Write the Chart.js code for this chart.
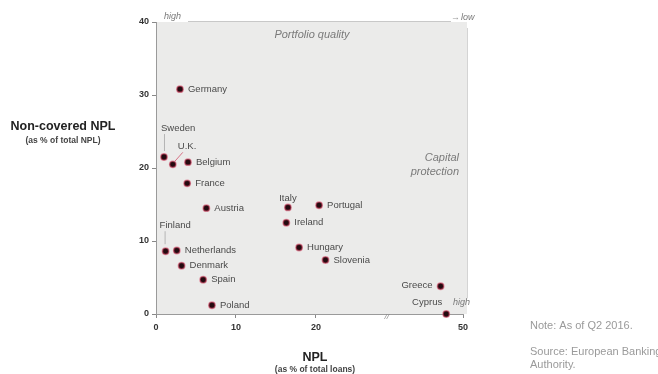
<!DOCTYPE html>
<html>
<head>
<meta charset="utf-8">
<style>
  html, body { margin: 0; padding: 0; background: #ffffff; }
  #wrap { width: 658px; height: 374px; position: relative; overflow: hidden; }
</style>
<script src="https://cdn.jsdelivr.net/npm/chart.js@4/dist/chart.umd.min.js"></script>
</head>
<body>
<div id="wrap"><canvas id="c" width="658" height="374"></canvas></div>
<script>
// Bank NPL ratio vs. share of NPL not covered by provisions/collateral (Q2 2016)
const countries = ['Germany', 'Sweden', 'U.K.', 'Belgium', 'France', 'Austria', 'Italy', 'Portugal',
  'Ireland', 'Finland', 'Netherlands', 'Hungary', 'Slovenia', 'Denmark', 'Spain', 'Poland', 'Greece', 'Cyprus'];
const nplRatio = [3.0, 1.0, 2.1, 4.0, 3.9, 6.3, 16.5, 20.4,
  16.3, 1.2, 2.6, 17.9, 21.2, 3.2, 5.9, 7.0, 47.2, 47.9];
const nonCoveredShare = [30.8, 21.5, 20.5, 20.8, 17.9, 14.5, 14.6, 14.9,
  12.5, 8.6, 8.7, 9.1, 7.4, 6.6, 4.7, 1.2, 3.8, 0.0];
const xTickValues = [0, 10, 20, 50];
const yTickValues = [0, 10, 20, 30, 40];

// x axis is broken: everything above BREAK_AT is shifted left by BREAK_SHIFT
const BREAK_AT = 28.6;
const BREAK_SHIFT = 11.6;
function toDisplay(v) {
  return v <= BREAK_AT ? v : Math.max(BREAK_AT, v - BREAK_SHIFT);
}
function fromDisplay(d) {
  return d <= BREAK_AT ? d : d + BREAK_SHIFT;
}

class BrokenLinearScale extends Chart.LinearScale {
  getPixelForValue(value) {
    const lo = toDisplay(this.min), hi = toDisplay(this.max);
    return this.getPixelForDecimal((toDisplay(value) - lo) / (hi - lo));
  }
  getValueForPixel(pixel) {
    const lo = toDisplay(this.min), hi = toDisplay(this.max);
    return fromDisplay(lo + this.getDecimalForPixel(pixel) * (hi - lo));
  }
}
BrokenLinearScale.id = 'brokenLinear';
BrokenLinearScale.defaults = Chart.LinearScale.defaults;
Chart.register(BrokenLinearScale);

// label placement per country: [dx, dy, textAlign]
const labelPlacement = {
  'Sweden': [-3, -29, 'left'],
  'U.K.': [5, -18, 'left'],
  'Italy': [0, -9, 'center'],
  'Finland': [-6, -26, 'left'],
  'Greece': [-8, -1, 'right'],
  'Cyprus': [-4, -12, 'right']
};

const FONT = '"Liberation Sans", Arial, sans-serif';

const decorPlugin = {
  id: 'decor',
  beforeDraw(chart) {
    const { ctx, chartArea: a } = chart;
    ctx.save();
    ctx.fillStyle = '#ebebea';
    ctx.fillRect(a.left, a.top, a.right - a.left + 4, a.bottom - a.top);
    // right edge line (capital protection direction)
    ctx.strokeStyle = '#d4d4d4';
    ctx.lineWidth = 1;
    ctx.beginPath();
    ctx.moveTo(a.right + 4.5, a.top + 6);
    ctx.lineTo(a.right + 4.5, a.bottom - 16);
    ctx.stroke();
    // top line (portfolio quality direction)
    ctx.strokeStyle = '#c8c8c8';
    ctx.beginPath();
    ctx.moveTo(a.left + 32, a.top - 0.5);
    ctx.lineTo(a.right - 12, a.top - 0.5);
    ctx.stroke();
    ctx.restore();
  },
  afterDatasetsDraw(chart) {
    const { ctx, chartArea: a } = chart;
    const meta = chart.getDatasetMeta(0);
    ctx.save();
    ctx.font = '9.5px ' + FONT;
    ctx.fillStyle = '#4a4a4a';
    ctx.textBaseline = 'middle';
    meta.data.forEach((pt, i) => {
      const name = countries[i];
      const p = labelPlacement[name] || [8, 0, 'left'];
      ctx.textAlign = p[2];
      ctx.fillText(name, pt.x + p[0], pt.y + p[1]);
    });
    // leader lines
    const pos = name => meta.data[countries.indexOf(name)];
    ctx.lineWidth = 1;
    ctx.strokeStyle = '#b5b5b5';
    const s = pos('Sweden');
    ctx.beginPath(); ctx.moveTo(s.x + 0.5, s.y - 23); ctx.lineTo(s.x + 0.5, s.y - 6); ctx.stroke();
    const f = pos('Finland');
    ctx.beginPath(); ctx.moveTo(f.x - 0.5, f.y - 20); ctx.lineTo(f.x - 0.5, f.y - 7); ctx.stroke();
    ctx.strokeStyle = 'rgba(205,60,90,0.7)';
    const u = pos('U.K.');
    ctx.beginPath(); ctx.moveTo(u.x + 10, u.y - 12); ctx.lineTo(u.x + 2, u.y - 3); ctx.stroke();

    // corner annotations
    ctx.fillStyle = '#7a7a7a';
    ctx.font = 'italic 9px ' + FONT;
    ctx.textAlign = 'left';
    ctx.fillText('high', a.left + 8, a.top - 6);
    ctx.fillText('low', a.right - 2, a.top - 5);
    ctx.fillText('high', a.right - 10, a.bottom - 12);
    ctx.fillStyle = '#999';
    ctx.fillText('\u2192', a.right - 12, a.top - 5);
    ctx.fillStyle = '#7a7a7a';
    ctx.font = 'italic 11px ' + FONT;
    ctx.textAlign = 'center';
    ctx.fillText('Portfolio quality', 312, a.top + 13);
    ctx.textAlign = 'right';
    ctx.fillText('Capital', a.right - 4, a.top + 136);
    ctx.fillText('protection', a.right - 4, a.top + 150);

    // axis break mark
    const xs = chart.scales.x;
    const bx = xs.getPixelForValue(BREAK_AT);
    ctx.font = 'italic 8px ' + FONT;
    ctx.fillStyle = '#888';
    ctx.textAlign = 'center';
    ctx.fillText('//', bx + 2, a.bottom + 3);

    // axis titles
    ctx.fillStyle = '#222';
    ctx.font = 'bold 12.5px ' + FONT;
    ctx.textAlign = 'center';
    ctx.fillText('Non-covered NPL', 63, 127);
    ctx.font = 'bold 8.5px ' + FONT;
    ctx.fillStyle = '#444';
    ctx.fillText('(as % of total NPL)', 63, 141);
    ctx.fillStyle = '#222';
    ctx.font = 'bold 12.5px ' + FONT;
    ctx.fillText('NPL', 315, 358);
    ctx.font = 'bold 8.5px ' + FONT;
    ctx.fillStyle = '#444';
    ctx.fillText('(as % of total loans)', 315, 370);

    // notes
    ctx.font = '11px ' + FONT;
    ctx.fillStyle = '#9a9a9a';
    ctx.textAlign = 'left';
    ctx.fillText('Note: As of Q2 2016.', 530, 326);
    ctx.fillText('Source: European Banking', 530, 352);
    ctx.fillText('Authority.', 530, 365);
    ctx.restore();
  }
};

new Chart(document.getElementById('c'), {
  type: 'scatter',
  data: {
    datasets: [{
      data: nplRatio.map((x, i) => ({ x, y: nonCoveredShare[i] })),
      backgroundColor: '#240a10',
      borderColor: 'rgba(215,70,100,0.55)',
      borderWidth: 1.5,
      pointRadius: 3.2,
      clip: false
    }]
  },
  options: {
    responsive: false,
    animation: false,
    devicePixelRatio: 1,
    layout: { padding: { left: 126, right: 195, top: 22, bottom: 40 } },
    plugins: { legend: { display: false }, tooltip: { enabled: false } },
    scales: {
      x: {
        type: 'brokenLinear',
        min: 0, max: 50,
        afterBuildTicks: s => { s.ticks = xTickValues.map(v => ({ value: v })); },
        afterFit: s => { s.height = 20; },
        grid: { drawOnChartArea: false, drawTicks: true, tickLength: 4, color: '#888' },
        border: { display: true, color: '#9a9a9a' },
        ticks: { font: { size: 9, family: FONT, weight: 'bold' }, color: '#333', padding: 4, maxRotation: 0, autoSkip: false }
      },
      y: {
        type: 'linear',
        min: 0, max: 40,
        afterBuildTicks: s => { s.ticks = yTickValues.map(v => ({ value: v })); },
        afterFit: s => { s.width = 30; },
        grid: { drawOnChartArea: false, drawTicks: true, tickLength: 4, color: '#888' },
        border: { display: true, color: '#9a9a9a' },
        ticks: { font: { size: 9, family: FONT, weight: 'bold' }, color: '#333', padding: 3, autoSkip: false }
      }
    }
  },
  plugins: [decorPlugin]
});
</script>
</body>
</html>
